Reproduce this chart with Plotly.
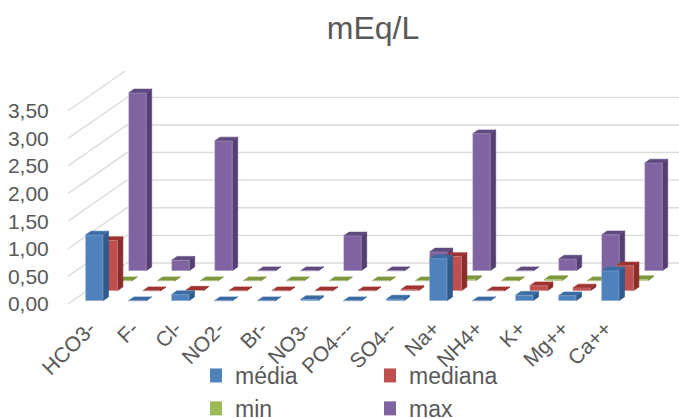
import plotly.graph_objects as go

# Concentrations per ion, in mEq/L
categories = ["HCO3-", "F-", "Cl-", "NO2-", "Br-", "NO3-", "PO4---", "SO4--", "Na+", "NH4+", "K+", "Mg++", "Ca++"]
media = [1.19, 0.0, 0.11, 0.0, 0.0, 0.02, 0.0, 0.03, 0.76, 0.0, 0.10, 0.09, 0.54]
mediana = [0.91, 0.0, 0.01, 0.0, 0.0, 0.0, 0.0, 0.02, 0.62, 0.0, 0.09, 0.05, 0.45]
minimo = [0.0, 0.0, 0.0, 0.0, 0.0, 0.0, 0.0, 0.0, 0.02, 0.0, 0.02, 0.0, 0.02]
maximo = [3.22, 0.19, 2.35, 0.0, 0.0, 0.63, 0.0, 0.34, 2.48, 0.0, 0.21, 0.65, 1.95]
y_ticks = [0, 0.5, 1, 1.5, 2, 2.5, 3, 3.5]
y_labels = ["0,00", "0,50", "1,00", "1,50", "2,00", "2,50", "3,00", "3,50"]

# name, values, front, top and side colours, row position in depth (back row first)
series = [
    ("max", maximo, "#8064A2", "#5F4A80", "#553F70", 0.812),
    ("min", minimo, "#9BBB59", "#7D993D", "#6E8738", 0.568),
    ("mediana", mediana, "#C0504D", "#A03330", "#8A2E2C", 0.324),
    ("média", media, "#4F81BD", "#3A6BA3", "#2F5A8C", 0.080),
]
legend_columns = {"média": "legend", "min": "legend", "mediana": "legend2", "max": "legend2"}

# Oblique projection: one unit of depth shifts a point right (categories) and up (value units)
DEPTH_X = 59 / 43
DEPTH_Y = 41 / 55.2
HALF_WIDTH = 0.205
THICKNESS = 0.093
X_LEFT = -0.5
X_RIGHT = 13.709
Y_TOP = 4.22


def project(x, depth, value):
    return x + DEPTH_X * depth, value + DEPTH_Y * depth


def polygon(corners):
    xs, ys = zip(*[project(*c) for c in corners])
    return list(xs) + [xs[0], None], list(ys) + [ys[0], None]


fig = go.Figure()

# Wall gridlines and the oblique lines running along the side
grid_x, grid_y = [], []
for tick in y_ticks:
    pts = [project(X_LEFT, 0, tick), project(X_LEFT, 1, tick), (X_RIGHT, tick + DEPTH_Y)]
    grid_x += [p[0] for p in pts] + [None]
    grid_y += [p[1] for p in pts] + [None]
fig.add_trace(go.Scatter(x=grid_x, y=grid_y, mode="lines", showlegend=False, hoverinfo="skip",
                         line=dict(color="#DCDCDC", width=1.4)))

# Bars, painted from the back row to the front row
for name, values, front, top, side, row in series:
    faces = {"side": ([], [], side), "top": ([], [], top), "front": ([], [], front)}
    for i, v in enumerate(values):
        l, r = i - HALF_WIDTH, i + HALF_WIDTH
        d0, d1 = row, row + THICKNESS
        shapes = {
            "side": [(r, d0, 0), (r, d1, 0), (r, d1, v), (r, d0, v)],
            "top": [(l, d0, v), (r, d0, v), (r, d1, v), (l, d1, v)],
            "front": [(l, d0, 0), (r, d0, 0), (r, d0, v), (l, d0, v)],
        }
        for key, corners in shapes.items():
            px, py = polygon(corners)
            faces[key][0].extend(px)
            faces[key][1].extend(py)
    for key, (px, py, colour) in faces.items():
        edge = "rgba(255,255,255,0.35)" if key == "front" else colour
        fig.add_trace(go.Scatter(x=px, y=py, mode="lines", fill="toself", fillcolor=colour,
                                 line=dict(color=edge, width=0.6), showlegend=False,
                                 name=name, hoverinfo="skip"))

# Legend keys as square swatches, split over two columns
colours = {s[0]: s[2] for s in series}
for name, column in legend_columns.items():
    fig.add_trace(go.Scatter(x=[None], y=[None], mode="markers", name=name, legend=column,
                             marker=dict(symbol="square", size=14, color=colours[name])))

legend_style = dict(orientation="v", xref="container", yref="container", xanchor="left", yanchor="top",
                    y=1 - 354 / 418, font=dict(size=23, color="#595959"), indentation=-15,
                    bgcolor="rgba(0,0,0,0)", borderwidth=0, itemwidth=30)

fig.update_layout(
    width=679, height=418,
    margin=dict(l=68, r=0, t=71, b=114, pad=0, autoexpand=False),
    paper_bgcolor="white", plot_bgcolor="white",
    font=dict(family="Liberation Sans", color="#595959"),
    title=dict(text="mEq/L", x=373 / 679, xanchor="center", y=1 - 28 / 418, yanchor="middle",
               font=dict(size=32, color="#595959")),
    legend=dict(x=210 / 679, **legend_style),
    legend2=dict(x=384 / 679, **legend_style),
    xaxis=dict(range=[X_LEFT, X_RIGHT], tickmode="array", tickvals=list(range(len(categories))),
               ticktext=categories, tickangle=-45, showgrid=False, zeroline=False, showline=False,
               ticks="outside", ticklen=3, tickcolor="rgba(0,0,0,0)",
               tickfont=dict(size=21, color="#595959")),
    yaxis=dict(range=[0, Y_TOP], tickmode="array", tickvals=y_ticks, ticktext=y_labels,
               showgrid=False, zeroline=False, showline=False,
               ticks="outside", ticklen=14, tickcolor="rgba(0,0,0,0)",
               tickfont=dict(size=21, color="#595959")),
)

fig.write_html("out.html")
